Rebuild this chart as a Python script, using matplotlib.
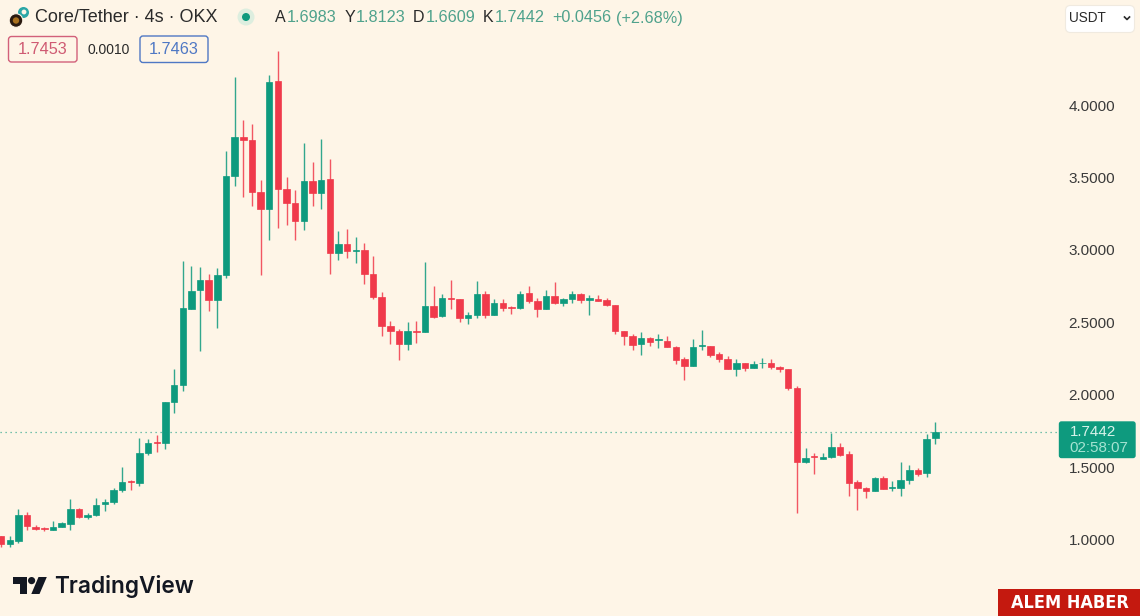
# -*- coding: utf-8 -*-
import numpy as np
import matplotlib
matplotlib.use("Agg")
import matplotlib.pyplot as plt
from matplotlib import font_manager as fm
from matplotlib.patches import FancyBboxPatch, Circle, Polygon, Rectangle

plt.rcParams['font.family'] = ['Liberation Sans', 'DejaVu Sans']

# --- Candle data (4h)
opens = [1.024, 0.967, 0.990, 1.171, 1.088, 1.077, 1.068, 1.088, 1.107, 1.213, 1.153, 1.169, 1.243, 1.261, 1.340, 1.404,
         1.392, 1.597, 1.673, 1.668, 1.949, 2.067, 2.592, 2.721, 2.790, 2.656, 2.826, 3.508, 3.777, 3.759, 3.400, 3.284,
         4.164, 3.420, 3.326, 3.201, 3.473, 3.395, 3.487, 2.978, 3.038, 2.992, 3.001, 2.835, 2.672, 2.472, 2.440, 2.350,
         2.440, 2.433, 2.612, 2.543, 2.670, 2.661, 2.529, 2.548, 2.695, 2.552, 2.631, 2.607, 2.601, 2.700, 2.647, 2.592,
         2.683, 2.635, 2.659, 2.695, 2.656, 2.661, 2.652, 2.617, 2.440, 2.407, 2.348, 2.389, 2.375, 2.369, 2.331, 2.246,
         2.196, 2.336, 2.336, 2.281, 2.248, 2.177, 2.217, 2.186, 2.217, 2.217, 2.189, 2.175, 2.046, 1.535, 1.575, 1.558,
         1.570, 1.639, 1.588, 1.395, 1.358, 1.333, 1.425, 1.358, 1.356, 1.409, 1.480, 1.459, 1.6983]
highs = [1.024, 1.024, 1.213, 1.188, 1.102, 1.088, 1.126, 1.119, 1.282, 1.220, 1.181, 1.287, 1.282, 1.354, 1.501, 1.411,
         1.699, 1.692, 1.720, 1.947, 2.177, 2.923, 2.891, 2.880, 2.833, 2.875, 3.683, 4.196, 3.897, 3.867, 3.482, 4.207,
         4.373, 3.501, 3.413, 3.736, 3.607, 3.765, 3.627, 3.130, 3.144, 3.091, 3.049, 2.955, 2.709, 2.507, 2.451, 2.504,
         2.511, 2.914, 2.750, 2.695, 2.794, 2.663, 2.569, 2.783, 2.718, 2.663, 2.663, 2.614, 2.716, 2.750, 2.668, 2.725,
         2.780, 2.670, 2.714, 2.704, 2.686, 2.688, 2.665, 2.619, 2.443, 2.419, 2.433, 2.400, 2.421, 2.403, 2.334, 2.262,
         2.387, 2.447, 2.338, 2.297, 2.267, 2.248, 2.221, 2.233, 2.255, 2.248, 2.200, 2.177, 2.060, 1.634, 1.599, 1.599,
         1.733, 1.664, 1.613, 1.409, 1.363, 1.429, 1.436, 1.406, 1.535, 1.514, 1.492, 1.726, 1.8123]
lows = [0.950, 0.950, 0.978, 1.064, 1.066, 1.061, 1.066, 1.084, 1.068, 1.151, 1.144, 1.164, 1.197, 1.243, 1.328, 1.344,
        1.371, 1.583, 1.602, 1.625, 1.876, 2.027, 2.592, 2.304, 2.580, 2.462, 2.804, 3.443, 3.365, 3.301, 2.826, 3.068,
        3.153, 3.172, 3.068, 3.137, 3.301, 3.284, 2.831, 2.930, 2.942, 2.907, 2.764, 2.659, 2.407, 2.352, 2.237, 2.309,
        2.359, 2.433, 2.527, 2.538, 2.590, 2.502, 2.486, 2.527, 2.527, 2.550, 2.578, 2.559, 2.594, 2.631, 2.533, 2.592,
        2.624, 2.612, 2.633, 2.633, 2.552, 2.645, 2.610, 2.417, 2.343, 2.309, 2.272, 2.334, 2.320, 2.327, 2.214, 2.099,
        2.196, 2.306, 2.260, 2.226, 2.177, 2.129, 2.161, 2.182, 2.186, 2.179, 2.155, 2.032, 1.181, 1.526, 1.452, 1.554,
        1.561, 1.579, 1.302, 1.202, 1.284, 1.333, 1.347, 1.333, 1.302, 1.381, 1.441, 1.434, 1.6609]
closes = [0.967, 0.994, 1.171, 1.093, 1.075, 1.073, 1.088, 1.112, 1.213, 1.155, 1.171, 1.238, 1.259, 1.344, 1.395, 1.400,
          1.595, 1.666, 1.668, 1.947, 2.065, 2.596, 2.716, 2.790, 2.656, 2.826, 3.510, 3.777, 3.761, 3.400, 3.284, 4.157,
          3.422, 3.324, 3.201, 3.475, 3.395, 3.480, 2.978, 3.040, 2.990, 2.999, 2.835, 2.672, 2.474, 2.438, 2.350, 2.438,
          2.435, 2.612, 2.538, 2.668, 2.663, 2.529, 2.550, 2.693, 2.548, 2.631, 2.598, 2.601, 2.697, 2.647, 2.592, 2.683,
          2.635, 2.661, 2.695, 2.652, 2.665, 2.649, 2.617, 2.442, 2.405, 2.345, 2.389, 2.362, 2.382, 2.329, 2.241, 2.196,
          2.331, 2.341, 2.272, 2.248, 2.177, 2.217, 2.184, 2.212, 2.221, 2.191, 2.175, 2.046, 1.537, 1.563, 1.570, 1.568,
          1.639, 1.586, 1.392, 1.358, 1.333, 1.427, 1.351, 1.365, 1.409, 1.480, 1.450, 1.696, 1.7442]

price_ticks = [1.0, 1.5, 2.0, 2.5, 3.0, 3.5, 4.0]
last_price = 1.7442

ohlc_labels = [("A", "1.6983", 275, 287), ("Y", "1.8123", 345, 356),
               ("D", "1.6609", 413, 426), ("K", "1.7442", 483, 495)]

# Colors
BG = "#FEF5E7"
GREEN = "#0E9A7E"
RED = "#F03A4B"
TEXT_GREEN = "#4FA28C"

W, H = 1140, 616
fig = plt.figure(figsize=(W / 100, H / 100), dpi=100, facecolor=BG)

# --- Price pane (axis ends where the price scale starts)
pane_w = 1059
ax = fig.add_axes([0, 0, pane_w / W, 1], facecolor=BG)

n = len(opens)
x = np.arange(n)
o, h, l, c = map(np.array, (opens, highs, lows, closes))
colors = np.where(c >= o, GREEN, RED)

ax.vlines(x, l, h, colors=colors, linewidth=1.0, alpha=0.85, zorder=2)
ax.bar(x, np.abs(c - o), bottom=np.minimum(o, c), width=0.74, color=colors,
       edgecolor=colors, linewidth=0.5, zorder=3)

ax.axhline(last_price, color=GREEN, linewidth=0.9, linestyle=(0, (1, 3)), alpha=0.75, zorder=1)

ax.set_xlim((0 - 1.1) / 8.65, (pane_w - 1.1) / 8.65)
ax.set_ylim(1 - 76.5 / 144.83, 1 + 539.5 / 144.83)
ax.set_xticks([])
ax.yaxis.tick_right()
ax.set_yticks(price_ticks)
ax.set_yticklabels([f"{p:.4f}" for p in price_ticks])
ax.tick_params(axis='y', length=0, pad=7, labelsize=11, labelcolor="#3A3A3A")
for s in ax.spines.values():
    s.set_visible(False)

# --- Overlay in pixel coordinates for the header, tags and logos
ov = fig.add_axes([0, 0, 1, 1], facecolor="none")
ov.set_xlim(0, W)
ov.set_ylim(H, 0)
ov.axis("off")


def rounded(x0, y0, w, h, fc, ec, lw=1.0, r=3, z=5):
    ov.add_patch(FancyBboxPatch((x0, y0), w, h, boxstyle=f"round,pad=0,rounding_size={r}",
                                facecolor=fc, edgecolor=ec, linewidth=lw, zorder=z))


# Symbol icon
ov.add_patch(Circle((23.5, 12.5), 5.5, facecolor="#2BA6A6", edgecolor="none", zorder=4))
ov.add_patch(Circle((24, 12), 2.4, facecolor=BG, edgecolor="none", zorder=4))
ov.add_patch(Circle((16, 20.5), 6.8, facecolor="#2A1A10", edgecolor=BG, linewidth=0.8, zorder=5))
ov.add_patch(Circle((16, 20.5), 3.2, facecolor="#A8701E", edgecolor="none", zorder=6))

ov.text(35, 18, "Core/Tether · 4s · OKX", fontsize=13, color="#2A2A2A", va="center", ha="left")

# Market status dot
ov.add_patch(Circle((246, 17), 8.5, facecolor="#DDEEDF", edgecolor="none", zorder=4))
ov.add_patch(Circle((246, 17), 4, facecolor=GREEN, edgecolor="none", zorder=5))

for name, val, xa, xb in ohlc_labels:
    ov.text(xa, 18, name, fontsize=11.5, color="#2A2A2A", va="center", ha="left")
    ov.text(xb, 18, val, fontsize=11.7, color=TEXT_GREEN, va="center", ha="left")
ov.text(552, 18, "+0.0456", fontsize=11.7, color=TEXT_GREEN, va="center", ha="left")
ov.text(616, 18, "(+2.68%)", fontsize=11.7, color=TEXT_GREEN, va="center", ha="left")

# Bid / ask boxes
rounded(8.5, 36.5, 68.5, 25.5, BG, "#D2607A")
ov.text(42.7, 50, "1.7453", fontsize=11.7, color="#CF5A72", va="center", ha="center", zorder=6)
ov.text(108.5, 50, "0.0010", fontsize=10, color="#2A2A2A", va="center", ha="center")
rounded(140, 36, 68, 26.5, BG, "#4F78C4")
ov.text(174, 50, "1.7463", fontsize=11.7, color="#4F78C4", va="center", ha="center", zorder=6)

# Currency button
rounded(1065.5, 5.5, 69, 27, "#FFFFFF", "#F0EAE0", lw=0.8, r=5)
ov.text(1069, 18.5, "USDT", fontsize=9.8, color="#2A2A2A", va="center", ha="left", zorder=6)
ov.plot([1124.5, 1127, 1129.5], [17, 19.5, 17], color="#2A2A2A", linewidth=1.2, zorder=6)

# Last price tag
rounded(1059.5, 422, 75.5, 35.5, GREEN, GREEN, r=2)
ov.text(1070, 432.5, f"{last_price:.4f}", fontsize=10.9, color="#D8F3EA", va="center", ha="left", zorder=6)
ov.text(1069, 448.5, "02:58:07", fontsize=10.9, color="#A5E3D2", va="center", ha="left", zorder=6)

# TradingView logo
LOGO = "#131722"
ov.add_patch(Polygon([(12.7, 577), (27.2, 577), (27.2, 594), (20, 594), (20, 584), (12.7, 584)],
                     closed=True, facecolor=LOGO, edgecolor="none"))
ov.add_patch(Circle((31.6, 580.6), 3.6, facecolor=LOGO, edgecolor="none"))
ov.add_patch(Polygon([(38.5, 577), (46.8, 577), (39.5, 594), (31.3, 594)],
                     closed=True, facecolor=LOGO, edgecolor="none"))
ov.text(54.5, 586, "TradingView", fontsize=16.3, fontweight="semibold", color=LOGO, va="center", ha="left",
        family=["Inter", "DejaVu Sans"])

# Watermark banner, narrow face if the machine has one
narrow = [f.fname for f in fm.fontManager.ttflist
          if ("Narrow" in f.fname or "Condensed" in f.fname) and "Bold" in f.fname and "Oblique" not in f.fname
          and "Italic" not in f.fname]
ov.add_patch(Rectangle((998, 589), 142, 27, facecolor="#C4190F", edgecolor="none", zorder=5))
if narrow:
    ov.text(1069.5, 602.5, "ALEM HABER", fontproperties=fm.FontProperties(fname=sorted(narrow)[0], size=13),
            color="#FFFFFF", va="center", ha="center", zorder=6)
else:
    ov.text(1069.5, 602.5, "ALEM HABER", fontsize=13, fontweight="bold", color="#FFFFFF", va="center", ha="center",
            zorder=6)

fig.savefig("out.png", dpi=100, facecolor=BG)
plt.close(fig)
